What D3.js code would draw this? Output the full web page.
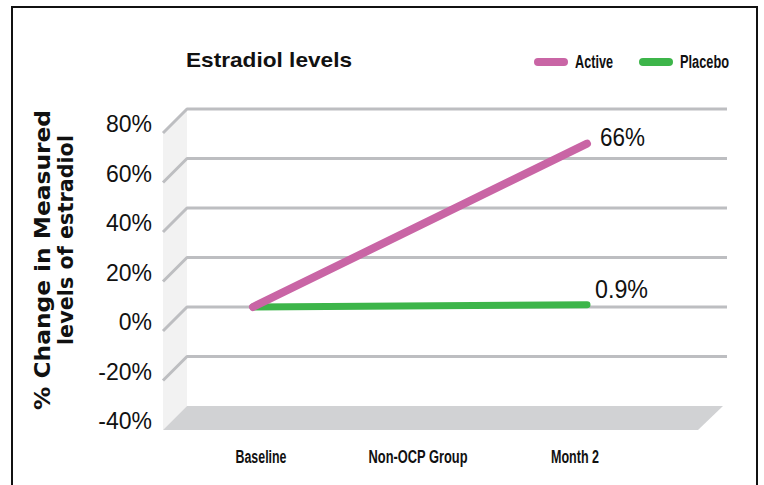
<!DOCTYPE html>
<html>
<head>
<meta charset="utf-8">
<script src="https://cdn.jsdelivr.net/npm/d3@7"></script>
<style>
  html, body { margin: 0; padding: 0; background: #ffffff; }
  svg { display: block; }
  text { font-family: "Liberation Sans", Arial, sans-serif; fill: #111111; }
</style>
</head>
<body>
<svg id="chart" width="764" height="485"></svg>
<script>
// Chart data
const categories = ["Baseline", "Non-OCP Group", "Month 2"];
const activeValues = [0, null, 66];
const placeboValues = [0, null, 0.9];
const activeLabel = "66%";
const placeboLabel = "0.9%";
const yTicks = [-40, -20, 0, 20, 40, 60, 80];
const seriesNames = ["Active", "Placebo"];
const chartTitle = "Estradiol levels";
const yTitleLines = ["% Change in Measured", "levels of estradiol"];

const svg = d3.select("#chart");

// Back wall of the 3D plot and its depth offset toward the viewer
const wallLeft = 187, wallRight = 727, floorRight = 723;
const depthX = -24, depthY = 24;

const y = d3.scaleLinear().domain([-40, 80]).range([406, 109]);
const x = d3.scalePoint().domain(categories).range([253, 587]);
const xLabel = d3.scalePoint().domain(categories).range([261, 575]);

// Outer frame
svg.append("rect")
  .attr("x", 12).attr("y", 7).attr("width", 745).attr("height", 500)
  .attr("fill", "#ffffff").attr("stroke", "#111111").attr("stroke-width", 2);

// Title
svg.append("text")
  .attr("x", 186).attr("y", 67)
  .attr("font-size", 21).attr("font-weight", "bold")
  .attr("textLength", 166).attr("lengthAdjust", "spacingAndGlyphs")
  .text(chartTitle);

// Side wall
const yTop = y(80), yBot = y(-40);
svg.append("path")
  .attr("d", `M${wallLeft},${yTop}L${wallLeft},${yBot}L${wallLeft + depthX},${yBot + depthY}L${wallLeft + depthX},${yTop + depthY}Z`)
  .attr("fill", "#f2f2f2");

// Floor
svg.append("path")
  .attr("d", `M${wallLeft},${yBot}L${floorRight},${yBot}L${floorRight + depthX - 1},${yBot + depthY}L${wallLeft + depthX},${yBot + depthY}Z`)
  .attr("fill", "#d1d2d4");

// Grid lines on the back wall plus their receding edge on the side wall
const grid = svg.append("g").attr("fill", "none").attr("stroke", "#bdbec1").attr("stroke-width", 3);
yTicks.filter(t => t > -40).forEach(t => {
  const yy = y(t);
  grid.append("path")
    .attr("d", `M${wallLeft + depthX},${yy + depthY}L${wallLeft},${yy}L${wallRight},${yy}`)
    .attr("stroke-linejoin", "round");
});

// Y tick labels at the front edge of the side wall
svg.append("g").selectAll("text")
  .data(yTicks)
  .join("text")
  .attr("x", 152)
  .attr("y", d => y(d) + 23)
  .attr("text-anchor", "end")
  .attr("font-size", 23)
  .text(d => d + "%");

// Y axis title (two rotated lines)
const yTitleStyle = [
  { tx: 50, ty: 410, len: 300 },
  { tx: 73, ty: 345, len: 210 }
];
yTitleLines.forEach((t, i) => {
  svg.append("text")
    .attr("transform", `translate(${yTitleStyle[i].tx},${yTitleStyle[i].ty}) rotate(-90)`)
    .attr("font-size", 21).attr("font-weight", "bold")
    .style("font-family", "'DejaVu Sans', sans-serif")
    .attr("textLength", yTitleStyle[i].len).attr("lengthAdjust", "spacingAndGlyphs")
    .text(t);
});

// Category labels below the floor
const catWidths = { "Baseline": 51, "Non-OCP Group": 99, "Month 2": 48 };
svg.append("g").selectAll("text")
  .data(categories)
  .join("text")
  .attr("x", d => xLabel(d) - catWidths[d] / 2)
  .attr("y", 463)
  .attr("font-size", 18).attr("font-weight", "bold")
  .attr("textLength", d => catWidths[d]).attr("lengthAdjust", "spacingAndGlyphs")
  .text(d => d);

// Series lines
const series = [
  { name: "Placebo", values: placeboValues, color: "#3db54a", width: 7, label: placeboLabel, labelDx: 8, labelDy: -7, labelWidth: 53 },
  { name: "Active", values: activeValues, color: "#c965a5", width: 8, label: activeLabel, labelDx: 13, labelDy: 2, labelWidth: 45 }
];
const line = d3.line()
  .defined(d => d.v !== null)
  .x(d => x(d.c))
  .y(d => y(d.v));

series.forEach(s => {
  const pts = categories.map((c, i) => ({ c, v: s.values[i] })).filter(d => d.v !== null);
  svg.append("path")
    .datum(pts)
    .attr("d", line)
    .attr("fill", "none")
    .attr("stroke", s.color)
    .attr("stroke-width", s.width)
    .attr("stroke-linecap", "round");
  const last = pts[pts.length - 1];
  svg.append("text")
    .attr("x", x(last.c) + s.labelDx)
    .attr("y", y(last.v) + s.labelDy)
    .attr("font-size", 26)
    .attr("textLength", s.labelWidth).attr("lengthAdjust", "spacingAndGlyphs")
    .text(s.label);
});

// Legend
const legendItems = [
  { name: seriesNames[0], color: "#c965a5", x: 534, textWidth: 38 },
  { name: seriesNames[1], color: "#3db54a", x: 639, textWidth: 49 }
];
const legend = svg.append("g");
legendItems.forEach(item => {
  legend.append("line")
    .attr("x1", item.x + 4).attr("x2", item.x + 30)
    .attr("y1", 62).attr("y2", 62)
    .attr("stroke", item.color).attr("stroke-width", 8).attr("stroke-linecap", "round");
  legend.append("text")
    .attr("x", item.x + 41).attr("y", 68)
    .attr("font-size", 18).attr("font-weight", 600)
    .attr("textLength", item.textWidth).attr("lengthAdjust", "spacingAndGlyphs")
    .text(item.name);
});
</script>
</body>
</html>
